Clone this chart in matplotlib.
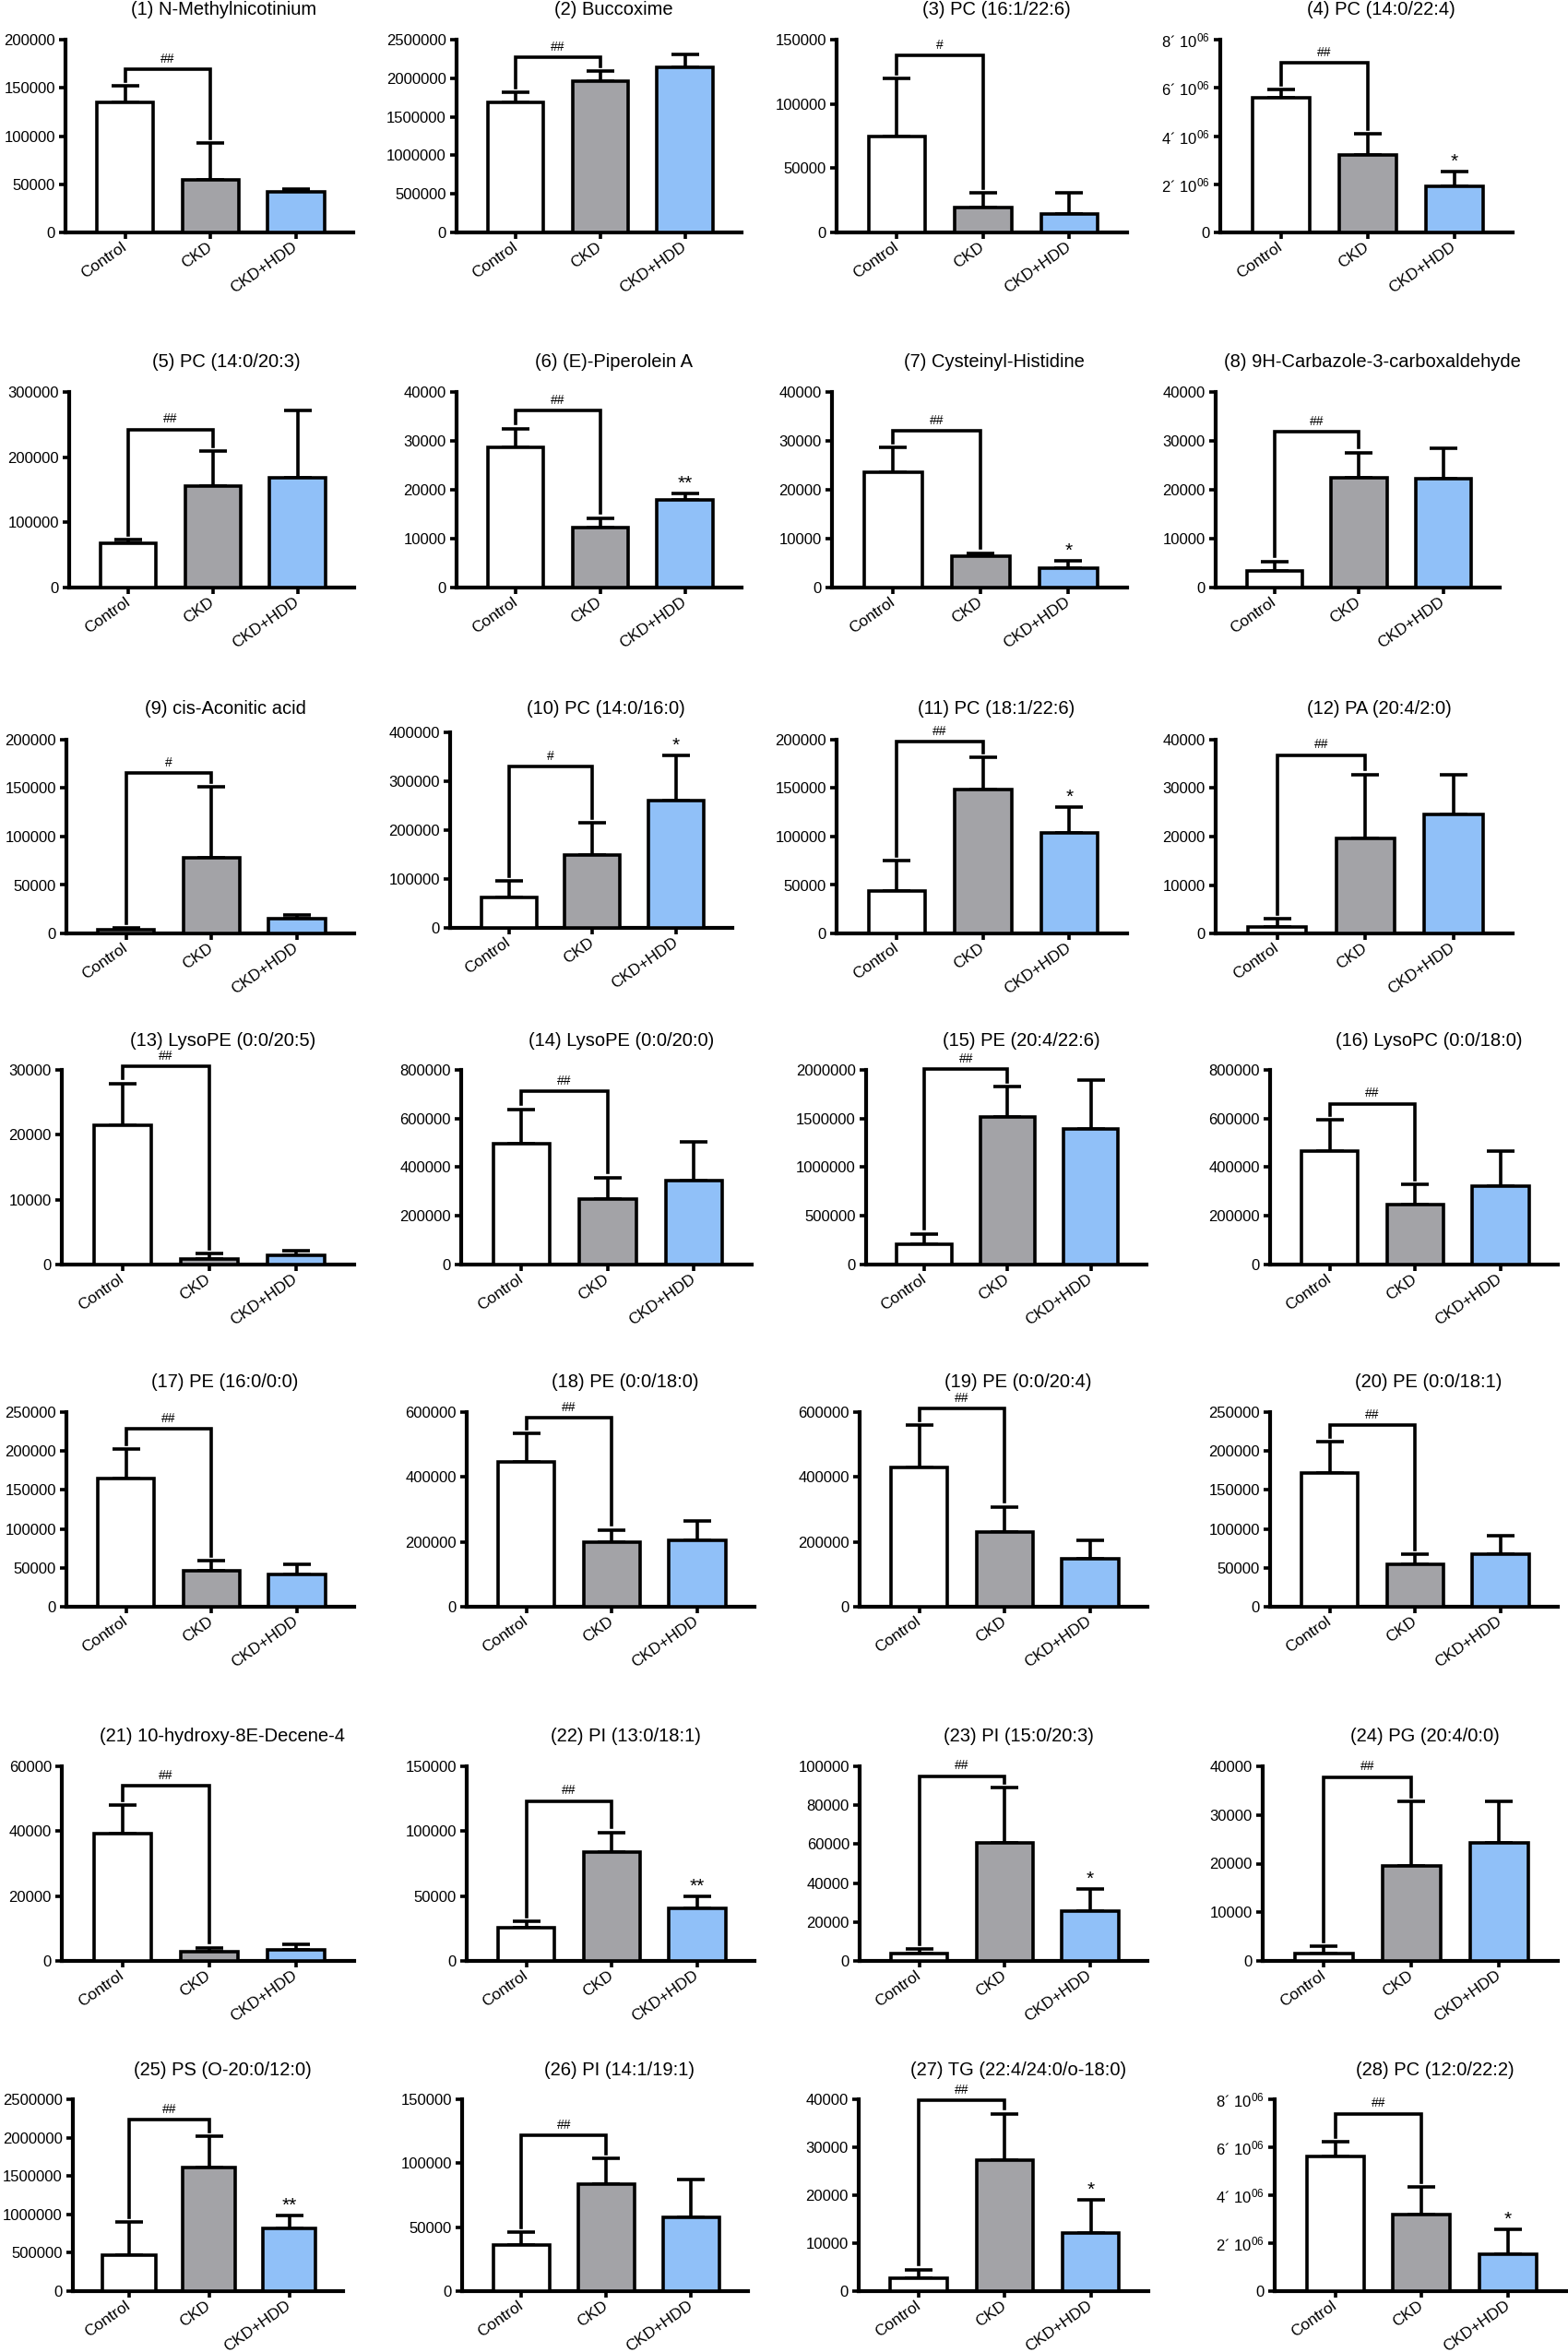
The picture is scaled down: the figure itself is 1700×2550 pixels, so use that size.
import matplotlib
matplotlib.use('Agg')
import matplotlib.pyplot as plt
import numpy as np

plt.rcParams['font.family'] = ['Liberation Sans', 'DejaVu Sans']
plt.rcParams['mathtext.default'] = 'regular'

# ---------------- data ----------------
groups = ['Control', 'CKD', 'CKD+HDD']

titles = [
    '(1) N-Methylnicotinium', '(2) Buccoxime', '(3) PC (16:1/22:6)', '(4) PC (14:0/22:4)',
    '(5) PC (14:0/20:3)', '(6) (E)-Piperolein A', '(7) Cysteinyl-Histidine', '(8) 9H-Carbazole-3-carboxaldehyde',
    '(9) cis-Aconitic acid', '(10) PC (14:0/16:0)', '(11) PC (18:1/22:6)', '(12) PA (20:4/2:0)',
    '(13) LysoPE (0:0/20:5)', '(14) LysoPE (0:0/20:0)', '(15) PE (20:4/22:6)', '(16) LysoPC (0:0/18:0)',
    '(17) PE (16:0/0:0)', '(18) PE (0:0/18:0)', '(19) PE (0:0/20:4)', '(20) PE (0:0/18:1)',
    '(21) 10-hydroxy-8E-Decene-4', '(22) PI (13:0/18:1)', '(23) PI (15:0/20:3)', '(24) PG (20:4/0:0)',
    '(25) PS (O-20:0/12:0)', '(26) PI (14:1/19:1)', '(27) TG (22:4/24:0/o-18:0)', '(28) PC (12:0/22:2)',
]

y_max = [200000, 2500000, 150000, 8e6,
         300000, 40000, 40000, 40000,
         200000, 400000, 200000, 40000,
         30000, 800000, 2000000, 800000,
         250000, 600000, 600000, 250000,
         60000, 150000, 100000, 40000,
         2500000, 150000, 40000, 8e6]

y_step = [50000, 500000, 50000, 2e6,
          100000, 10000, 10000, 10000,
          50000, 100000, 50000, 10000,
          10000, 200000, 500000, 200000,
          50000, 200000, 200000, 50000,
          20000, 50000, 20000, 10000,
          500000, 50000, 10000, 2e6]

sci_labels = [False, False, False, True,
              False, False, False, False,
              False, False, False, False,
              False, False, False, False,
              False, False, False, False,
              False, False, False, False,
              False, False, False, True]

means = [
    [135000, 55000, 42000], [1690000, 1960000, 2145000], [75000, 19500, 14000], [5.57e6, 3.23e6, 1.92e6],
    [67600, 155000, 167700], [28700, 12200, 18000], [23500, 6400, 4000], [3460, 22360, 22240],
    [3800, 78200, 15500], [63100, 149500, 261200], [44000, 149000, 103500], [1390, 19550, 24490],
    [21470, 850, 1470], [496700, 269200, 345000], [205000, 1516600, 1390000], [465100, 246400, 322300],
    [165100, 46200, 41500], [447400, 199100, 205700], [429400, 231300, 148800], [171800, 54100, 67900],
    [39150, 2940, 3410], [25600, 83650, 40300], [3950, 60500, 25750], [1580, 19460, 24330],
    [466800, 1610000, 823000], [36000, 84000, 58000], [2600, 27300, 12200], [5.61e6, 3.21e6, 1.55e6],
]

errors = [
    [17000, 38000, 3000], [130000, 130000, 167000], [44500, 11300, 16600], [0.35e6, 0.86e6, 0.61e6],
    [5600, 53800, 103500], [3800, 2000, 1300], [5200, 650, 1540], [1890, 5240, 6230],
    [1600, 72800, 3500], [32800, 65000, 91500], [31000, 32600, 27200], [1580, 13300, 8360],
    [6440, 810, 660], [141300, 88500, 158000], [111000, 309400, 506000], [130200, 82200, 145300],
    [37500, 13000, 12600], [87200, 37900, 59700], [129800, 76800, 56900], [40300, 13000, 22900],
    [8810, 1140, 1610], [4700, 15400, 9460], [2050, 28440, 11370], [1450, 13270, 8400],
    [435200, 408000, 166000], [10000, 20000, 29000], [1900, 9700, 6800], [0.63e6, 1.14e6, 1.03e6],
]

bracket_level = [169500, 2275000, 138000, 7.05e6,
                 242400, 36200, 32100, 31800,
                 165800, 330600, 197800, 36830,
                 30560, 711500, 2009000, 661000,
                 228300, 582000, 611400, 233000,
                 54030, 123200, 94940, 37790,
                 2235000, 122000, 39800, 7.40e6]

bracket_mark = ['##', '##', '#', '##',
                '##', '##', '##', '##',
                '#', '#', '##', '##',
                '##', '##', '##', '##',
                '##', '##', '##', '##',
                '##', '##', '##', '##',
                '##', '##', '##', '##']

hdd_mark = ['', '', '', '*',
            '', '**', '*', '',
            '', '*', '*', '',
            '', '', '', '',
            '', '', '', '',
            '', '**', '*', '',
            '**', '', '*', '*']

# ---------------- layout (pixels: left, right, top, bottom) ----------------
W, H = 1700, 2550
panel_lr = [
    (71, 383), (495, 804), (907, 1222), (1323, 1640),
    (75, 384), (495, 804), (902, 1222), (1318, 1626),
    (72, 384), (488, 794), (907, 1222), (1318, 1640),
    (67, 384), (500, 815), (939, 1243), (1377, 1689),
    (72, 384), (506, 818), (932, 1244), (1377, 1689),
    (67, 384), (506, 818), (932, 1244), (1369, 1689),
    (79, 372), (501, 811), (931, 1245), (1382, 1698),
]
row_tb = [(43, 252), (425, 637), (802, 1012), (1160, 1371), (1531, 1742), (1915, 2126), (2276, 2484)]
row_title_y = [10, 393, 768, 1128, 1499, 1883, 2245]

colors = ['white', '#a3a3a7', '#90c0f8']
LW = 2.6

fig = plt.figure(figsize=(W / 100, H / 100), dpi=100)
fig.patch.set_facecolor('white')

x = np.arange(3)
for i in range(28):
    row = i // 4
    l, r = panel_lr[i]
    t, b = row_tb[row]
    if i == 9:
        t, b = 794, 1006
    ax = fig.add_axes([l / W, 1 - b / H, (r - l) / W, (b - t) / H])
    ym = y_max[i]
    m = np.array(means[i], dtype=float)
    e = np.array(errors[i], dtype=float)

    ax.errorbar(x, m, yerr=[np.zeros(3), e], fmt='none', ecolor='black',
                elinewidth=LW, capsize=11, capthick=LW, zorder=2)
    ax.bar(x, m, width=0.66, color=colors, edgecolor='black', linewidth=LW, zorder=3)

    ax.set_xlim(-0.7, 2.67)
    ax.set_ylim(0, ym)
    ticks = np.arange(0, ym + y_step[i] / 2, y_step[i])
    ax.set_yticks(ticks)
    if sci_labels[i]:
        labs = ['0'] + [r"%d´ 10$^{06}$" % int(round(v / 1e6)) for v in ticks[1:]]
    else:
        labs = ['%d' % int(round(v)) for v in ticks]
    ax.set_yticklabels(labs, fontsize=12)
    ax.set_xticks(x)
    ax.set_xticklabels(groups, fontsize=12.5, rotation=35, ha='right', va='center',
                       rotation_mode='anchor')

    for s in ['top', 'right']:
        ax.spines[s].set_visible(False)
    for s in ['left', 'bottom']:
        ax.spines[s].set_linewidth(3.0)
    ax.tick_params(axis='both', direction='out', length=5, width=2.6, pad=3)
    ax.tick_params(axis='x', pad=5)

    # significance bracket Control vs CKD
    cap = m + e
    by = bracket_level[i]
    gap = 0.025 * ym
    ax.plot([0, 0, 1, 1], [cap[0] + gap, by, by, cap[1] + gap], color='black',
            lw=LW, clip_on=False, zorder=4, solid_joinstyle='miter')
    ax.text(0.5, by + 0.02 * ym, bracket_mark[i], ha='center', va='bottom',
            fontsize=10, clip_on=False)
    if hdd_mark[i]:
        ax.text(2, cap[2] + 0.005 * ym, hdd_mark[i], ha='center', va='bottom',
                fontsize=15, clip_on=False)

    fig.text((l + r) / 2 / W + 16 / W, 1 - row_title_y[row] / H, titles[i],
             ha='center', va='center', fontsize=14.5)

fig.savefig('out.png', dpi=100, facecolor='white')
